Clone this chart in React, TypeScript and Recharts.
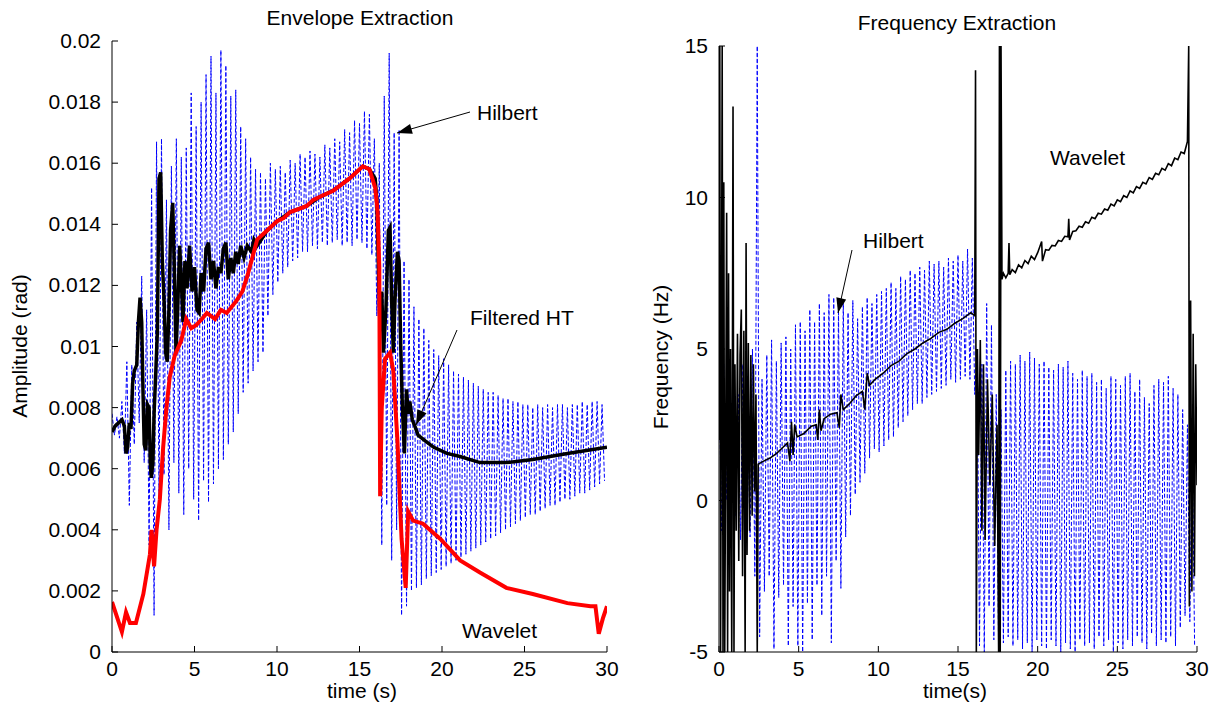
import React from 'react';
import { LineChart, Line, XAxis, YAxis } from 'recharts';

const FONT = '"Liberation Sans", Arial, Helvetica, sans-serif';
const FS = 21;
const TICK_LEN = 6;

const timeTicks = [0, 5, 10, 15, 20, 25, 30];
const ampTicks = [0, 0.002, 0.004, 0.006, 0.008, 0.01, 0.012, 0.014, 0.016, 0.018, 0.02];
const freqTicks = [-5, 0, 5, 10, 15];

// ---- left panel: envelope ----
// Hilbert samples: a peak every 0.3 s, a trough half way between
const HILBERT_STEP = 0.3;
const envHilbertHigh = [
  0.0078, 0.0077, 0.0082, 0.0095, 0.0094, 0.0108, 0.0123, 0.0112, 0.0152, 0.0167,
  0.0168, 0.0148, 0.0159, 0.0168, 0.0162, 0.0165, 0.0183, 0.0172, 0.0180, 0.0189,
  0.0195, 0.0183, 0.0197, 0.0192, 0.0182, 0.0184, 0.0172, 0.0168, 0.0162, 0.0158,
  0.0157, 0.0155, 0.0160, 0.0158, 0.0159, 0.0157, 0.0161, 0.0160, 0.0163, 0.0162,
  0.0164, 0.0163, 0.0162, 0.0166, 0.0165, 0.0168, 0.0167, 0.0171, 0.0170, 0.0174,
  0.0173, 0.0177, 0.0176, 0.0168, 0.0160, 0.0182, 0.0196, 0.0170, 0.0171, 0.0128,
  0.0122, 0.0113, 0.0109, 0.0106, 0.0102, 0.0099, 0.0097, 0.0096, 0.0094, 0.0092,
  0.0091, 0.0090, 0.0089, 0.0088, 0.0087, 0.0086, 0.0085, 0.0085, 0.0084, 0.0083,
  0.0083, 0.0082, 0.0082, 0.0081, 0.0081, 0.0080, 0.0081, 0.0080, 0.0081, 0.0080,
  0.0081, 0.0081, 0.0080, 0.0081, 0.0081, 0.0082, 0.0081, 0.0082, 0.0082, 0.0081,
];
const envHilbertLow = [
  0.0071, 0.0070, 0.0065, 0.0048, 0.0068, 0.0075, 0.0062, 0.0035, 0.0012, 0.0050,
  0.0058, 0.0040, 0.0062, 0.0052, 0.0045, 0.0060, 0.0050, 0.0043, 0.0056, 0.0049,
  0.0055, 0.0060, 0.0063, 0.0068, 0.0072, 0.0078, 0.0085, 0.0088, 0.0092, 0.0095,
  0.0098, 0.0110, 0.0117, 0.0121, 0.0124, 0.0126, 0.0128, 0.0129, 0.0131, 0.0131,
  0.0133, 0.0132, 0.0134, 0.0133, 0.0134, 0.0135, 0.0133, 0.0134, 0.0133, 0.0135,
  0.0134, 0.0132, 0.0130, 0.0110, 0.0035, 0.0048, 0.0030, 0.0040, 0.0012, 0.0015,
  0.0020, 0.0021, 0.0022, 0.0024, 0.0025, 0.0026, 0.0027, 0.0028, 0.0029, 0.0030,
  0.0031, 0.0032, 0.0033, 0.0034, 0.0035, 0.0036, 0.0037, 0.0038, 0.0039, 0.0040,
  0.0041, 0.0042, 0.0043, 0.0044, 0.0045, 0.0045, 0.0046, 0.0047, 0.0048, 0.0048,
  0.0049, 0.0050, 0.0050, 0.0051, 0.0052, 0.0052, 0.0053, 0.0054, 0.0055, 0.0056,
];

// Wavelet envelope (red)
const envWaveletT = [
  0, 0.36, 0.6, 0.85, 1.09, 1.45, 1.9, 2.3, 2.4, 2.55, 2.7, 2.9, 3.1, 3.3, 3.5, 3.8,
  4.2, 4.5, 4.8, 5.1, 5.45, 5.75, 6.25, 6.6, 6.95, 7.55, 7.9, 8.2, 8.8, 9.4, 10,
  10.4, 10.8, 11.3, 11.8, 12.2, 12.6, 13.4, 13.9, 14.4, 15.2, 15.6, 15.95, 16.1, 16.2,
  16.25, 16.35, 16.55, 16.85, 17.05, 17.3, 17.55, 17.8, 17.95, 18.25, 18.85, 19.9,
  21.1, 22.3, 23.9, 25.5, 27.6, 29, 29.3, 29.5, 29.75, 30,
];
const envWaveletV = [
  0.00164, 0.00105, 0.00066, 0.0013, 0.00095, 0.00095, 0.0019, 0.0032, 0.004, 0.0028, 0.004, 0.005, 0.0067, 0.008, 0.009, 0.0097,
  0.0102, 0.0109, 0.0106, 0.0107, 0.0109, 0.0111, 0.0109, 0.0112, 0.0111, 0.0115, 0.0118, 0.0123, 0.0135, 0.0138, 0.0141,
  0.0142, 0.0144, 0.0145, 0.0146, 0.0148, 0.0149, 0.0151, 0.0153, 0.0155, 0.0159, 0.0158, 0.0152, 0.0144, 0.0126,
  0.0051, 0.008, 0.0096, 0.0098, 0.0092, 0.0069, 0.0037, 0.0021, 0.0046, 0.0043, 0.0042, 0.0037,
  0.003, 0.0026, 0.0021, 0.0019, 0.0016, 0.0015, 0.0015, 0.0006, 0.0011, 0.0015,
];

// Filtered HT envelope (black)
const envFilteredT = [
  0, 0.2, 0.4, 0.6, 0.75, 0.85, 0.95, 1.05, 1.15, 1.25, 1.35, 1.5, 1.6, 1.7, 1.8, 1.88, 1.95,
  2.05, 2.15, 2.25, 2.32, 2.38, 2.48, 2.55, 2.65, 2.75, 2.85, 2.95, 3.05, 3.15, 3.25, 3.35,
  3.45, 3.55, 3.68, 3.78, 3.88, 3.98, 4.1, 4.2, 4.3, 4.42, 4.55, 4.7, 4.85, 5.0, 5.15, 5.28,
  5.4, 5.55, 5.7, 5.85, 6.0, 6.15, 6.3, 6.45, 6.6, 6.75, 6.9, 7.05, 7.2, 7.35, 7.5, 7.65,
  7.8, 8.0, 8.2, 8.45, 8.6, 8.8, 9.05, 9.4, 10, 10.8, 11.8, 12.6, 13.4, 14.4, 15.2, 15.6,
  15.95, 16.05, 16.15, 16.25, 16.35, 16.45, 16.6, 16.75, 16.85, 16.95, 17.05, 17.15, 17.3,
  17.4, 17.5, 17.6, 17.72, 17.85, 17.95, 18.05, 18.2, 18.35, 18.55, 19.0, 19.5, 20.3, 21.1,
  22.3, 23.9, 25.5, 27.6, 30,
];
const envFilteredV = [
  0.0072, 0.0074, 0.0075, 0.0076, 0.0074, 0.0065, 0.0067, 0.0075, 0.0073, 0.0088, 0.0092, 0.0094, 0.0108, 0.0116, 0.0108, 0.0085, 0.0068,
  0.0066, 0.0081, 0.008, 0.0062, 0.0057, 0.0062, 0.0078, 0.0091, 0.0105, 0.0155, 0.0157, 0.0128, 0.0116, 0.0098, 0.0095,
  0.0112, 0.0138, 0.0147, 0.0125, 0.0098, 0.0112, 0.0133, 0.0122, 0.0108, 0.0128, 0.0119, 0.0133, 0.0118, 0.0126, 0.0112, 0.0111,
  0.0124, 0.0118, 0.0132, 0.0134, 0.0122, 0.0128, 0.0119, 0.0126, 0.0124, 0.0132, 0.0134, 0.0122, 0.0129, 0.0124, 0.0131, 0.0127,
  0.0133, 0.0129, 0.0133, 0.0131, 0.0135, 0.0133, 0.0135, 0.0138, 0.0141, 0.0144, 0.0146, 0.0149, 0.0151, 0.0155, 0.0159, 0.0158,
  0.0155, 0.0148, 0.0125, 0.0105, 0.0118, 0.0098, 0.0112, 0.0138, 0.0139, 0.0115, 0.0098, 0.0115, 0.0131,
  0.0128, 0.01, 0.008, 0.0065, 0.0086, 0.0078, 0.0082, 0.0076, 0.0074, 0.0071, 0.0069, 0.0067, 0.0065, 0.0064,
  0.0062, 0.0062, 0.0063, 0.0065, 0.0067,
];

// ---- right panel: frequency ----
const freqHilbertHigh = [
  5.0, 4.5, 3.0, 4.0, 3.5, 4.5, 3.0, 5.0, 15, 4.0,
  4.8, 5.3, 4.6, 5.2, 5.4, 5.0, 5.8, 5.9, 5.6, 6.3,
  5.9, 6.5, 6.2, 6.8, 6.7, 6.3, 6.6, 6.2, 6.6, 6.0,
  6.4, 6.7, 6.5, 6.8, 6.9, 7.0, 7.2, 7.0, 7.4, 7.3,
  7.6, 7.5, 7.7, 7.6, 7.9, 7.8, 7.9, 7.7, 8.0, 7.9,
  8.1, 7.9, 8.3, 8.0, 5.0, 4.5, 6.5, 5.8, 3.5, 3.0,
  4.3, 4.6, 4.5, 4.8, 4.6, 4.9, 4.7, 4.5, 4.6, 4.4,
  4.3, 4.5, 4.4, 4.6, 4.2, 4.0, 4.3, 4.1, 4.2, 3.9,
  4.0, 3.7, 4.1, 4.0, 3.8, 4.1, 4.2, 3.6, 4.0, 3.4,
  3.2, 3.8, 4.0, 3.9, 4.1, 3.7, 3.5, 3.0, 2.5, 2.0,
];
const freqHilbertLow = [
  -1.0, 0.0, -1.5, -0.5, -1.3, -2.0, -1.2, -2.5, -4.5, -3.0,
  -2.5, -4.9, -3.2, -2.8, -4.8, -3.5, -4.8, -5.0, -3.4, -4.6,
  -2.8, -3.8, -2.5, -4.7, -2.0, -2.9, -1.2, -0.5, 0.2, 0.6,
  0.9, 1.4, 1.7, 1.6, 1.8, 2.0, 2.1, 2.4, 2.6, 2.8,
  3.0, 3.2, 3.2, 3.4, 3.5, 3.6, 3.7, 3.8, 4.0, 3.9,
  4.0, 4.1, 4.0, 3.5, -4.8, -5.0, -3.5, -4.6, -5.0, -4.7,
  -4.5, -4.8, -4.6, -4.9, -4.7, -5.0, -4.6, -4.8, -4.9, -4.6,
  -4.8, -5.0, -4.7, -4.9, -5.0, -4.6, -4.8, -4.7, -4.9, -4.5,
  -4.8, -4.6, -5.0, -4.7, -4.9, -4.6, -4.8, -4.5, -4.7, -4.9,
  -4.4, -4.8, -4.6, -4.7, -4.5, -4.8, -4.2, -3.8, -4.0, -4.8,
];

// Wavelet instantaneous frequency (black)
const freqWaveletT = [
  0, 0.05, 0.1, 0.15, 0.2, 0.25, 0.3, 0.36, 0.42, 0.48, 0.54, 0.6, 0.66, 0.72, 0.8, 0.88, 0.94,
  1.0, 1.08, 1.16, 1.24, 1.32, 1.4, 1.48, 1.56, 1.64, 1.7, 1.76, 1.84, 1.92, 2.0, 2.08, 2.16,
  2.24, 2.32, 2.4, 2.46, 2.8, 3.2, 3.6, 4.0, 4.3, 4.45, 4.55, 4.65, 4.75, 4.9, 5.3, 5.8, 6.1,
  6.2, 6.3, 6.4, 6.6, 7.0, 7.4, 7.55, 7.65, 7.8, 8.2, 8.6, 9.0, 9.15, 9.3, 9.45, 9.8, 10.3,
  10.8, 11.3, 11.8, 12.3, 12.8, 13.3, 13.8, 14.3, 14.8, 15.3, 15.8, 16.05, 16.1, 16.15, 16.22,
  16.3, 16.4, 16.5, 16.6, 16.7, 16.85, 17.0, 17.15, 17.3, 17.45, 17.55, 17.6, 17.65, 17.7,
  17.76, 17.85, 18.0, 18.15, 18.2, 18.25, 18.4, 18.6, 18.8, 19.0, 19.2, 19.4, 19.6, 19.8,
  20.0, 20.25, 20.3, 20.5, 20.7, 20.9, 21.1, 21.3, 21.5, 21.7, 21.9, 21.95, 22.0, 22.2, 22.4,
  22.6, 22.8, 23.0, 23.2, 23.4, 23.6, 23.8, 24.0, 24.2, 24.4, 24.6, 24.8, 25.0, 25.2, 25.4,
  25.6, 25.8, 26.0, 26.2, 26.4, 26.6, 26.8, 27.0, 27.2, 27.4, 27.6, 27.8, 28.0, 28.2, 28.4,
  28.6, 28.8, 29.0, 29.2, 29.4, 29.48, 29.52, 29.6, 29.68, 29.76, 29.84, 29.92, 30,
];
const freqWaveletV = [
  2.0, 15, -5, 4, 15, -5, 10.5, -5, 2, 9.5, -5, 7.5, -3, 5, -5, 13, -5,
  4.5, -1, 5.5, -2, 4.8, 6.3, -2.5, 5.6, -5, 8.5, -1.8, 5.2, -1, 4.8, -0.5, 4.5,
  0.3, 3.5, -5, 1.2, 1.3, 1.4, 1.55, 1.75, 1.9, 1.3, 2.6, 1.5, 2.5, 2.1, 2.2, 2.45, 2.5,
  2.0, 3.0, 2.3, 2.7, 2.85, 2.9, 2.4, 3.5, 3.0, 3.2, 3.45, 3.6, 3.0, 4.2, 3.8, 4.0, 4.2,
  4.45, 4.6, 4.85, 5.0, 5.2, 5.35, 5.55, 5.65, 5.85, 6.0, 6.2, 6.1, 14.2, -5, 5,
  1.5, 5.3, -1, 4.5, -1.3, 4, 0.5, 3.5, -1.5, 2.5, -5, 15, -5, 15,
  7.3, 7.5, 7.35, 7.5, 8.5, 7.45, 7.62, 7.52, 7.78, 7.68, 7.92, 7.82, 8.06, 7.95,
  8.18, 8.55, 7.9, 8.28, 8.26, 8.42, 8.4, 8.58, 8.55, 8.72, 8.7, 9.3, 8.6, 8.88, 8.9,
  9.05, 9.02, 9.2, 9.15, 9.35, 9.3, 9.48, 9.45, 9.62, 9.58, 9.78, 9.72, 9.92, 9.86, 10.06,
  10.0, 10.22, 10.15, 10.36, 10.3, 10.5, 10.45, 10.66, 10.6, 10.8, 10.75, 10.96, 10.9, 11.12, 11.05,
  11.3, 11.25, 11.5, 11.45, 11.85, 15, -3.5, 6.6, -3, 5.5, -2.5, 4.5, 0.5,
];

const interleave = (high: number[], low: number[]) => {
  const rows: { t: number; v: number }[] = [];
  high.forEach((h, i) => {
    rows.push({ t: +(i * HILBERT_STEP).toFixed(2), v: h });
    rows.push({ t: +(i * HILBERT_STEP + HILBERT_STEP / 2).toFixed(2), v: low[i] });
  });
  return rows;
};
const zip = (ts: number[], vs: number[]) => ts.map((t, i) => ({ t, v: vs[i] }));

const envHilbertData = interleave(envHilbertHigh, envHilbertLow);
const envWaveletData = zip(envWaveletT, envWaveletV);
const envFilteredData = zip(envFilteredT, envFilteredV);
const freqHilbertData = interleave(freqHilbertHigh, freqHilbertLow);
const freqWaveletData = zip(freqWaveletT, freqWaveletV);

// ---- tick renderers (ticks point inward, like the original) ----
const txt = { fontSize: FS, fontFamily: FONT, fill: '#000' };

const BottomTick = (p: any) => (
  <g>
    <line x1={p.x} x2={p.x} y1={p.y} y2={p.y - TICK_LEN} stroke="#000" />
    <text x={p.x} y={p.y + 24} textAnchor="middle" {...txt}>{p.payload.value}</text>
  </g>
);
const TopTick = (p: any) => (
  <line x1={p.x} x2={p.x} y1={p.y} y2={p.y + TICK_LEN} stroke="#000" />
);
const LeftTick = (p: any) => (
  <g>
    <line x1={p.x} x2={p.x + TICK_LEN} y1={p.y} y2={p.y} stroke="#000" />
    <text x={p.x - 11} y={p.y + 7} textAnchor="end" {...txt}>{String(p.payload.value)}</text>
  </g>
);
const RightTick = (p: any) => (
  <line x1={p.x} x2={p.x - TICK_LEN} y1={p.y} y2={p.y} stroke="#000" />
);

const axisLine = { stroke: '#000', strokeWidth: 1 };

function Panel(props: {
  width: number; height: number; top: number; right: number; yWidth: number;
  yDomain: [number, number]; yTicks: number[]; children: React.ReactNode;
}) {
  const { width, height, top, right, yWidth, yDomain, yTicks, children } = props;
  return (
    <LineChart width={width} height={height} margin={{ top, right, bottom: 0, left: 0 }}>
      <XAxis type="number" dataKey="t" domain={[0, 30]} ticks={timeTicks} interval={0}
        allowDataOverflow height={58} tickSize={0} tickMargin={0} tickLine={false}
        axisLine={axisLine} tick={(p: any) => <BottomTick {...p} />} />
      <XAxis xAxisId="top" orientation="top" type="number" dataKey="t" domain={[0, 30]} ticks={timeTicks}
        interval={0} allowDataOverflow height={0} tickSize={0} tickMargin={0} tickLine={false}
        axisLine={axisLine} tick={(p: any) => <TopTick {...p} />} />
      <YAxis type="number" domain={yDomain} ticks={yTicks} interval={0} allowDataOverflow
        width={yWidth} tickSize={0} tickMargin={0} tickLine={false} axisLine={axisLine}
        tick={(p: any) => <LeftTick {...p} />} />
      <YAxis yAxisId="right" orientation="right" type="number" domain={yDomain} ticks={yTicks}
        interval={0} allowDataOverflow width={0} tickSize={0} tickMargin={0} tickLine={false}
        axisLine={axisLine} tick={(p: any) => <RightTick {...p} />} />
      {children}
    </LineChart>
  );
}

const arrowHead = (x1: number, y1: number, x2: number, y2: number, len = 15, half = 5) => {
  const a = Math.atan2(y2 - y1, x2 - x1);
  const bx = x2 - len * Math.cos(a);
  const by = y2 - len * Math.sin(a);
  const px = -Math.sin(a) * half;
  const py = Math.cos(a) * half;
  return `${x2},${y2} ${bx + px},${by + py} ${bx - px},${by - py}`;
};

const Arrow = ({ x1, y1, x2, y2 }: { x1: number; y1: number; x2: number; y2: number }) => (
  <g>
    <line x1={x1} y1={y1} x2={x2} y2={y2} stroke="#000" strokeWidth={1} />
    <polygon points={arrowHead(x1, y1, x2, y2)} fill="#000" />
  </g>
);

export default function App() {
  return (
    <div style={{ position: 'absolute', left: 0, top: 0, width: 1222, height: 710, background: '#fff', fontFamily: FONT }}>
      <div style={{ position: 'absolute', left: 0, top: 0 }}>
        <Panel width={640} height={710} top={41} right={33} yWidth={112} yDomain={[0, 0.02]} yTicks={ampTicks}>
          <Line data={envHilbertData} dataKey="v" type="linear" stroke="#0000ff" strokeWidth={1}
            strokeDasharray="4 2" dot={false} isAnimationActive={false} />
          <Line data={envFilteredData} dataKey="v" type="linear" stroke="#000" strokeWidth={3.5}
            dot={false} isAnimationActive={false} />
          <Line data={envWaveletData} dataKey="v" type="linear" stroke="#ff0000" strokeWidth={4}
            dot={false} isAnimationActive={false} />
        </Panel>
      </div>
      <div style={{ position: 'absolute', left: 640, top: 0 }}>
        <Panel width={582} height={710} top={46} right={25} yWidth={79} yDomain={[-5, 15]} yTicks={freqTicks}>
          <Line data={freqHilbertData} dataKey="v" type="linear" stroke="#0000ff" strokeWidth={1}
            strokeDasharray="4 2" dot={false} isAnimationActive={false} />
          <Line data={freqWaveletData} dataKey="v" type="linear" stroke="#000" strokeWidth={1.6}
            dot={false} isAnimationActive={false} />
        </Panel>
      </div>
      <svg width={1222} height={710} style={{ position: 'absolute', left: 0, top: 0, pointerEvents: 'none' }}>
        <g {...txt}>
          <text x={360} y={25} textAnchor="middle">Envelope Extraction</text>
          <text x={957} y={30} textAnchor="middle">Frequency Extraction</text>
          <text x={27} y={346} textAnchor="middle" transform="rotate(-90 27 346)">Amplitude (rad)</text>
          <text x={668} y={357} textAnchor="middle" transform="rotate(-90 668 357)">Frequency (Hz)</text>
          <text x={362} y={698} textAnchor="middle">time (s)</text>
          <text x={955} y={698} textAnchor="middle">time(s)</text>
          <text x={477} y={120}>Hilbert</text>
          <text x={470} y={325}>Filtered HT</text>
          <text x={462} y={638}>Wavelet</text>
          <text x={863} y={248}>Hilbert</text>
          <text x={1050} y={165}>Wavelet</text>
        </g>
        <Arrow x1={470} y1={112} x2={397} y2={133} />
        <Arrow x1={457} y1={330} x2={416} y2={425} />
        <Arrow x1={852} y1={250} x2={838} y2={313} />
      </svg>
    </div>
  );
}
